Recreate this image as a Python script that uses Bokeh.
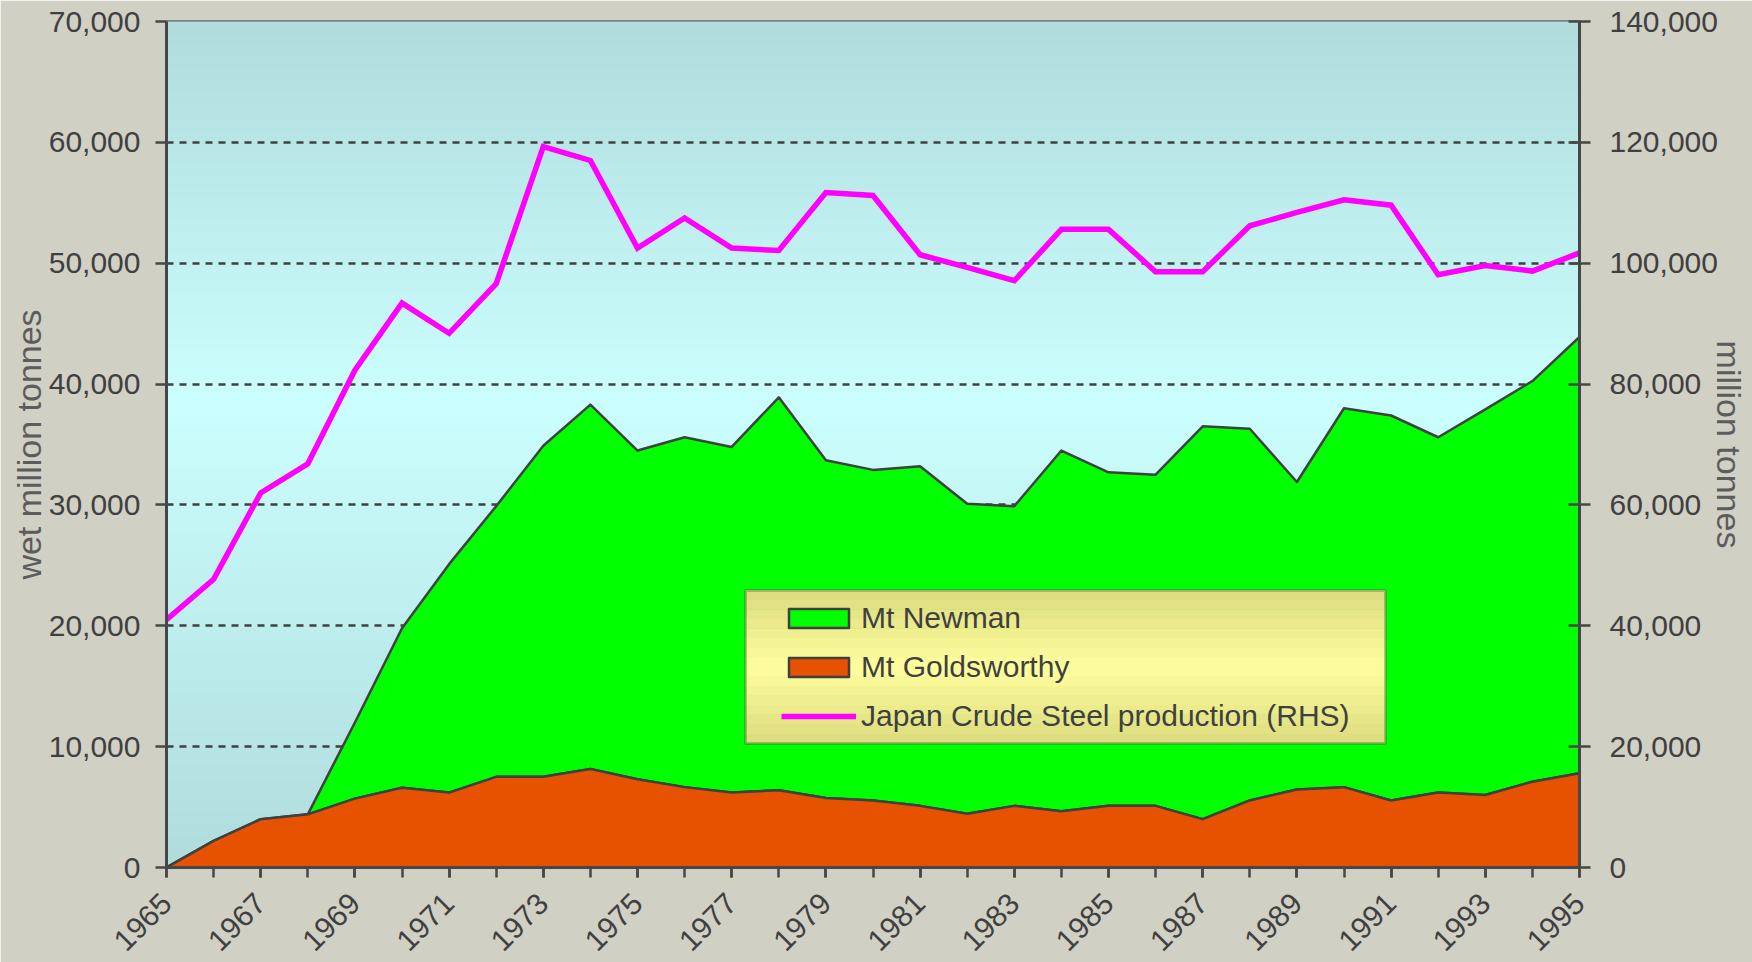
import numpy as np
from math import pi
from bokeh.plotting import figure
from bokeh.models import (Range1d, LinearAxis, SingleIntervalTicker, FixedTicker,
                          NumeralTickFormatter, Legend, LegendItem, BoxAnnotation)
from bokeh.embed import file_html
from bokeh.resources import INLINE

# ---------------- data ----------------
years = list(range(1965, 1996))
label_years = list(range(1965, 1996, 2))

# wet million tonnes (LHS)
mt_goldsworthy = [0, 2200, 4000, 4400, 5700, 6600, 6200, 7500, 7500, 8150,
                  7300, 6650, 6200, 6400, 5750, 5550, 5100, 4450, 5100, 4650,
                  5100, 5100, 4000, 5550, 6450, 6650, 5550, 6200, 6000, 7100,
                  7800]
mt_newman = [0, 0, 0, 0, 6300, 13200, 18900, 22400, 27400, 30150,
             27200, 28950, 28600, 32500, 27950, 27350, 28100, 25650, 24800, 29850,
             27600, 27400, 32500, 30750, 25450, 31350, 31850, 29400, 31900, 33150,
             36100]
# million tonnes (RHS)
japan_steel = [41000, 47700, 62000, 66800, 82300, 93400, 88400, 96600, 119300, 117000,
               102500, 107500, 102500, 102100, 111700, 111200, 101400, 99300, 97100, 105600,
               105600, 98600, 98600, 106200, 108400, 110500, 109600, 98100, 99600, 98700,
               101700]

series_names = ["Mt Newman", "Mt Goldsworthy", "Japan Crude Steel production (RHS)"]
left_title = "wet million tonnes"
right_title = "million tonnes"

# ---------------- style ----------------
FONT = "Liberation Sans"
TXT = "#404040"
AX = "#474747"
PAGE_BG = "#d1d0c5"

p = figure(width=1752, height=962, output_backend="svg", toolbar_location=None, tools="",
           x_range=Range1d(1965, 1995), y_range=Range1d(0, 70000),
           min_border_left=166, min_border_right=173, min_border_top=21, min_border_bottom=95,
           border_fill_color=PAGE_BG, background_fill_color="#c4f2f2",
           outline_line_color="#808080", outline_line_width=3)
p.extra_y_ranges = {"steel": Range1d(0, 140000)}

# vertical gradient for the plot area background
n = 256
t = np.linspace(0.0, 1.0, n)
peak = 0.55
w = np.where(t < peak, t / peak, (1 - t) / (1 - peak))
c_edge = np.array([176, 220, 220])
c_mid = np.array([204, 255, 255])
cols = c_edge[None, :] + (c_mid - c_edge)[None, :] * w[:, None]
img = np.empty((n, 2), dtype=np.uint32)
view = img.view(dtype=np.uint8).reshape((n, 2, 4))
view[:, :, 0] = cols[:, 0:1].astype(np.uint8)
view[:, :, 1] = cols[:, 1:2].astype(np.uint8)
view[:, :, 2] = cols[:, 2:3].astype(np.uint8)
view[:, :, 3] = 255
p.image_rgba(image=[img], x=p.x_range.start, y=p.y_range.start,
             dw=p.x_range.end - p.x_range.start, dh=p.y_range.end - p.y_range.start,
             level="image")

# grid
p.xgrid.visible = False
p.ygrid.ticker = SingleIntervalTicker(interval=10000, num_minor_ticks=0)
p.ygrid.grid_line_color = "#404040"
p.ygrid.grid_line_width = 2.5
p.ygrid.grid_line_dash = "7 6"

# stacked areas as outlined patches
newman_top = [g + m for g, m in zip(mt_goldsworthy, mt_newman)]
xs = years + years[::-1]
r_new = p.patch(xs, newman_top + mt_goldsworthy[::-1], fill_color="#00ff00",
                line_color="#404040", line_width=2.5, line_join="round")
r_gold = p.patch(xs, mt_goldsworthy + [0] * len(years), fill_color="#e65200",
                 line_color="#404040", line_width=2.5, line_join="round")
r_steel = p.line(years, japan_steel, y_range_name="steel", line_color="#ff00ff",
                 line_width=5.5, line_join="miter")

# x axis: ticks every year, labels on odd years, rotated
xa = p.xaxis[0]
xa.ticker = FixedTicker(ticks=label_years, minor_ticks=years)
xa.major_label_orientation = pi / 4
xa.major_label_text_font = FONT
xa.major_label_text_font_size = "30px"
xa.major_label_text_color = TXT
xa.major_label_standoff = 21
xa.axis_line_color = AX
xa.axis_line_width = 3
xa.major_tick_line_color = AX
xa.major_tick_line_width = 2.5
xa.major_tick_in = 0
xa.major_tick_out = 10
xa.minor_tick_line_color = AX
xa.minor_tick_line_width = 2.5
xa.minor_tick_in = 0
xa.minor_tick_out = 10

# left axis
ya = p.yaxis[0]
ya.ticker = SingleIntervalTicker(interval=10000, num_minor_ticks=0)
ya.formatter = NumeralTickFormatter(format="0,0")
ya.major_label_text_font = FONT
ya.major_label_text_font_size = "30px"
ya.major_label_text_color = TXT
ya.major_label_standoff = 15
ya.axis_line_color = AX
ya.axis_line_width = 3
ya.major_tick_line_color = AX
ya.major_tick_line_width = 2.5
ya.major_tick_in = 0
ya.major_tick_out = 11
ya.minor_tick_line_color = None
ya.axis_label = left_title
ya.axis_label_text_font = FONT
ya.axis_label_text_font_size = "34px"
ya.axis_label_text_font_style = "normal"
ya.axis_label_text_color = "#5c5c5c"
ya.axis_label_standoff = -2

# right axis
ra = LinearAxis(y_range_name="steel",
                ticker=SingleIntervalTicker(interval=20000, num_minor_ticks=0),
                formatter=NumeralTickFormatter(format="0,0"))
ra.major_label_text_font = FONT
ra.major_label_text_font_size = "30px"
ra.major_label_text_color = TXT
ra.major_label_standoff = 19
ra.axis_line_color = AX
ra.axis_line_width = 3
ra.major_tick_line_color = AX
ra.major_tick_line_width = 2.5
ra.major_tick_in = 11
ra.major_tick_out = 11
ra.minor_tick_line_color = None
ra.axis_label = right_title
ra.axis_label_text_font = FONT
ra.axis_label_text_font_size = "34px"
ra.axis_label_text_font_style = "normal"
ra.axis_label_text_color = "#5c5c5c"
ra.axis_label_standoff = -11
p.add_layout(ra, "right")

# legend box: yellow vertical gradient bands, then a border
LB_LEFT, LB_RIGHT, LB_BOTTOM, LB_TOP = 579, 1219, 124, 277
nb = 16
edge_c = np.array([220, 220, 128])
mid_c = np.array([255, 255, 158])
for i in range(nb):
    b0 = LB_BOTTOM + (LB_TOP - LB_BOTTOM) * i / nb
    b1 = LB_BOTTOM + (LB_TOP - LB_BOTTOM) * (i + 1) / nb
    tc = (i + 0.5) / nb
    wc = 1 - abs(tc - 0.5) / 0.5
    c = edge_c + (mid_c - edge_c) * wc
    p.add_layout(BoxAnnotation(left=LB_LEFT, right=LB_RIGHT, bottom=b0, top=b1 + 0.5,
                               left_units="screen", right_units="screen",
                               top_units="screen", bottom_units="screen",
                               fill_color="#%02x%02x%02x" % tuple(int(v) for v in c),
                               fill_alpha=1.0, line_color=None))
p.add_layout(BoxAnnotation(left=LB_LEFT, right=LB_RIGHT, bottom=LB_BOTTOM, top=LB_TOP,
                           left_units="screen", right_units="screen",
                           top_units="screen", bottom_units="screen",
                           fill_alpha=0.0, line_color="#404040", line_width=3))

legend = Legend(items=[LegendItem(label=series_names[0], renderers=[r_new]),
                       LegendItem(label=series_names[1], renderers=[r_gold]),
                       LegendItem(label=series_names[2], renderers=[r_steel])],
                location=(615, 134), background_fill_alpha=0, border_line_alpha=0,
                padding=0, margin=0, spacing=15, glyph_width=75, glyph_height=24,
                label_standoff=5, label_height=30,
                label_text_font=FONT, label_text_font_size="30px",
                label_text_color=TXT)
p.add_layout(legend)

open("out.html", "w").write(file_html(p, INLINE))
